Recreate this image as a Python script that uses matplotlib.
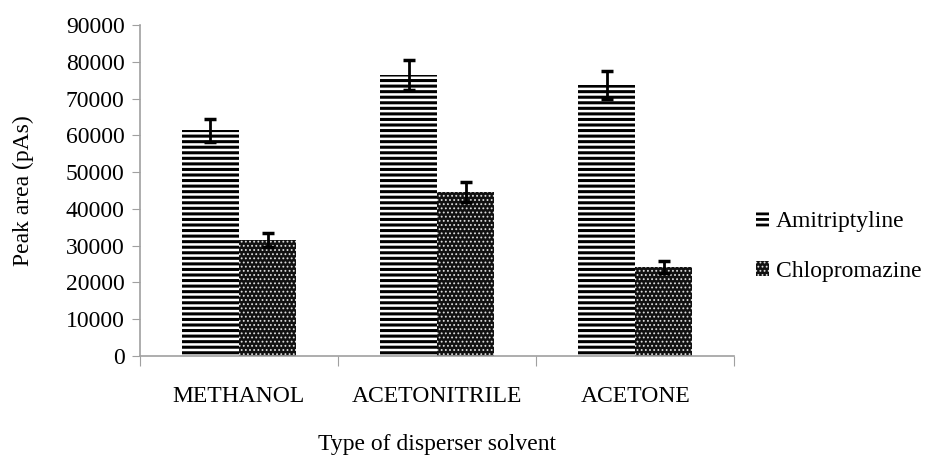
import numpy as np
import matplotlib
matplotlib.use('Agg')
import matplotlib.pyplot as plt

solvents = ['METHANOL', 'ACETONITRILE', 'ACETONE']
amitriptyline = [61400, 76400, 73600]
amitriptyline_err = [3100, 4000, 3800]
chlopromazine = [31500, 44600, 24200]
chlopromazine_err = [1900, 2700, 1600]

plt.rcParams['font.family'] = ['Liberation Serif', 'DejaVu Serif']
fs = 17

fig = plt.figure(figsize=(9.39, 4.55), dpi=100)
ax = fig.add_axes([0.149, 0.218, 0.633, 0.727])

x = np.arange(len(solvents))
w = 0.288

plt.rcParams['hatch.linewidth'] = 2.2
ax.bar(x - w / 2, amitriptyline, w, facecolor='white', edgecolor='black',
       hatch='---', linewidth=0, label='Amitriptyline')
plt.rcParams['hatch.linewidth'] = 0.8
ax.bar(x + w / 2, chlopromazine, w, facecolor='#111111', edgecolor='#dddddd',
       hatch='....', linewidth=0, label='Chlopromazine')

ax.errorbar(x - w / 2, amitriptyline, yerr=amitriptyline_err, fmt='none',
            ecolor='black', elinewidth=2, capsize=4.5, capthick=2.5)
ax.errorbar(x + w / 2, chlopromazine, yerr=chlopromazine_err, fmt='none',
            ecolor='black', elinewidth=2, capsize=4.5, capthick=2.5)

ax.set_xlim(-0.5, 2.5)
ax.set_ylim(0, 90000)
ax.set_yticks(np.arange(0, 90001, 10000))
ax.set_xticks(np.arange(-0.5, 2.6, 1.0))
ax.set_xticklabels([])
ax.set_xticks(x, minor=True)
ax.set_xticklabels(solvents, minor=True)
ax.tick_params(axis='x', which='minor', length=0, pad=22, labelsize=fs)
ax.tick_params(axis='x', which='major', length=7, color='#a0a0a0')
ax.tick_params(axis='y', length=6, color='#a0a0a0', labelsize=fs, pad=5)

for s in ['top', 'right']:
    ax.spines[s].set_visible(False)
for s in ['left', 'bottom']:
    ax.spines[s].set_color('#a0a0a0')
    ax.spines[s].set_linewidth(1.2)

ax.set_ylabel('Peak area (pAs)', fontsize=fs)
ax.yaxis.set_label_coords(-0.178, 0.5)
ax.set_xlabel('Type of disperser solvent', fontsize=fs)
ax.xaxis.set_label_coords(0.5, -0.235)

leg = fig.legend(loc='center left', bbox_to_anchor=(0.782, 0.458), frameon=False,
                 fontsize=fs, handlelength=0.55, handleheight=0.6,
                 handletextpad=0.3, labelspacing=1.2)
# legend handles get the hatch width at creation time, fix the first one
for h, lw in zip(leg.legend_handles, [2.0, 0.8]):
    if hasattr(h, 'set_hatch_linewidth'):
        h.set_hatch_linewidth(lw)
    else:
        h._hatch_linewidth = lw

fig.savefig('out.png', dpi=100)
